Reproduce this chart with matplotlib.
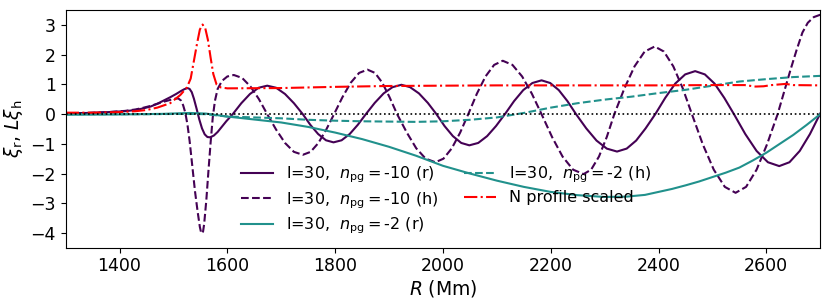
import numpy as np
import matplotlib
matplotlib.use('Agg')
import matplotlib.pyplot as plt

# l=30, n_pg=-10, radial component
R_r10 = [1300, 1340, 1380, 1410, 1430, 1445, 1458, 1470, 1482, 1494, 1505, 1514,
         1520, 1526, 1530, 1534, 1538, 1543, 1548, 1553, 1558, 1563, 1568, 1575,
         1582, 1590, 1598, 1604, 1610, 1626, 1642, 1658, 1674, 1690.5, 1707, 1723.5,
         1740, 1754, 1768.5, 1783, 1797, 1812, 1827, 1842, 1857, 1873.5, 1890, 1906.5,
         1923, 1939, 1955.5, 1972, 1988, 2003, 2018.5, 2034, 2049, 2065.5, 2082, 2098.5,
         2115, 2132, 2149, 2166, 2183, 2199, 2215, 2231, 2247, 2266, 2285, 2304,
         2323, 2341, 2358.5, 2376, 2394, 2412.5, 2431, 2449.5, 2468, 2486, 2504, 2522,
         2540, 2561, 2582, 2603, 2624, 2643, 2662, 2681, 2700]
xi_r10 = [0.03, 0.04, 0.07, 0.1, 0.14, 0.2, 0.26, 0.35, 0.46, 0.57, 0.68, 0.78,
          0.84, 0.88, 0.85, 0.74, 0.52, 0.18, -0.18, -0.48, -0.68, -0.77, -0.78, -0.72,
          -0.6, -0.42, -0.24, -0.12, 0.0, 0.37, 0.68, 0.89, 0.96, 0.89, 0.68, 0.37,
          0.0, -0.36, -0.67, -0.88, -0.95, -0.88, -0.67, -0.36, 0.0, 0.38, 0.7, 0.91,
          0.99, 0.91, 0.7, 0.38, 0.0, -0.4, -0.74, -0.97, -1.05, -0.97, -0.74, -0.4,
          0.0, 0.44, 0.81, 1.05, 1.14, 1.05, 0.81, 0.44, 0.0, -0.48, -0.89, -1.16,
          -1.26, -1.16, -0.89, -0.48, 0.0, 0.55, 1.03, 1.34, 1.45, 1.34, 1.03, 0.55,
          0.0, -0.67, -1.24, -1.62, -1.75, -1.62, -1.24, -0.67, 0.02]

# l=30, n_pg=-10, horizontal component
R_h10 = [1300, 1340, 1380, 1410, 1430, 1445, 1458, 1470, 1482, 1494, 1503, 1509,
         1514, 1518, 1522, 1526, 1530, 1535, 1540, 1545, 1549, 1551, 1553, 1555,
         1557, 1561, 1565, 1569, 1573, 1577, 1582, 1590, 1600, 1612, 1627.5, 1643,
         1658.5, 1674, 1690.5, 1707, 1723.5, 1740, 1754.5, 1769, 1783.5, 1798, 1813.5, 1829,
         1844.5, 1860, 1874, 1887.5, 1901, 1915, 1933, 1950.5, 1968, 1986, 2001, 2016.5,
         2032, 2047, 2063, 2079, 2095, 2111, 2129, 2147, 2165, 2183, 2202.5, 2222,
         2241.5, 2261, 2275, 2289.5, 2304, 2318, 2336.75, 2355.5, 2374.25, 2393, 2410, 2427.5,
         2445, 2462, 2482, 2502.5, 2523, 2543, 2562.5, 2582, 2601.5, 2621, 2633, 2645,
         2656, 2667, 2677, 2688, 2700]
xi_h10 = [0.03, 0.04, 0.07, 0.11, 0.16, 0.22, 0.28, 0.35, 0.42, 0.48, 0.52, 0.53,
          0.46, 0.3, 0.05, -0.35, -0.9, -1.75, -2.6, -3.3, -3.8, -3.96, -4.02, -3.95,
          -3.7, -2.9, -1.9, -0.95, -0.1, 0.45, 0.85, 1.12, 1.27, 1.32, 1.22, 0.93,
          0.51, 0.0, -0.52, -0.97, -1.27, -1.37, -1.27, -0.97, -0.52, 0.0, 0.57, 1.06,
          1.39, 1.5, 1.39, 1.06, 0.57, 0.0, -0.62, -1.15, -1.5, -1.62, -1.5, -1.15,
          -0.62, 0.0, 0.69, 1.27, 1.66, 1.8, 1.66, 1.27, 0.69, 0.0, -0.77, -1.43,
          -1.87, -2.02, -1.87, -1.43, -0.77, 0.0, 0.87, 1.61, 2.11, 2.28, 2.11, 1.61,
          0.87, 0.0, -1.01, -1.87, -2.45, -2.65, -2.45, -1.87, -1.01, 0.0, 0.75, 1.5,
          2.15, 2.75, 3.08, 3.27, 3.35]

# l=30, n_pg=-2, radial component
R_r2 = [1300, 1400, 1480, 1530, 1560, 1580, 1600, 1625, 1650, 1700, 1750, 1800,
        1850, 1900, 1950, 2000, 2050, 2100, 2150, 2200, 2250, 2300, 2340, 2375,
        2400, 2425, 2450, 2475, 2500, 2525, 2550, 2575, 2600, 2625, 2650, 2675, 2700]
xi_r2 = [-0.02, -0.01, 0.01, 0.04, 0.02, -0.03, -0.08, -0.13, -0.18, -0.28, -0.43, -0.62,
         -0.84, -1.1, -1.4, -1.74, -2.0, -2.24, -2.45, -2.62, -2.73, -2.79, -2.78, -2.72,
         -2.62, -2.52, -2.4, -2.27, -2.12, -1.97, -1.8, -1.56, -1.3, -1.0, -0.7, -0.36, 0.0]

# l=30, n_pg=-2, horizontal component
R_h2 = [1300, 1450, 1530, 1560, 1580, 1600, 1650, 1700, 1750, 1800, 1850, 1900,
        1950, 2000, 2050, 2100, 2150, 2200, 2250, 2300, 2350, 2400, 2450, 2500,
        2550, 2600, 2650, 2700]
xi_h2 = [0.0, 0.0, 0.01, 0.0, -0.04, -0.08, -0.11, -0.14, -0.19, -0.22, -0.24, -0.25,
         -0.26, -0.24, -0.19, -0.11, 0.04, 0.22, 0.37, 0.49, 0.59, 0.71, 0.82, 0.96,
         1.1, 1.18, 1.25, 1.29]

# buoyancy frequency, scaled
R_N = [1300, 1350, 1400, 1430, 1450, 1470, 1494, 1513, 1525, 1532, 1538, 1544,
       1549, 1554, 1559, 1564, 1569, 1574, 1580, 1588, 1600, 1700, 1800, 1900,
       2000, 2100, 2200, 2300, 2400, 2500, 2560, 2580, 2595, 2610, 2636, 2650, 2700]
N_scaled = [0.05, 0.05, 0.07, 0.1, 0.14, 0.22, 0.37, 0.65, 0.9, 1.2, 1.8, 2.4,
            2.85, 3.02, 2.9, 2.5, 1.9, 1.35, 1.0, 0.9, 0.87, 0.88, 0.92, 0.95,
            0.96, 0.97, 0.97, 0.97, 0.97, 0.98, 0.98, 0.93, 0.94, 0.98, 1.02, 0.98, 0.97]

c10 = '#440154'
c2 = '#21918c'

plt.rcParams['font.size'] = 12.5
fig = plt.figure(figsize=(8.31, 3.03), dpi=100)
ax = fig.add_axes([0.079, 0.1825, 0.908, 0.7835])

ax.plot(R_r10, xi_r10, '-', color=c10, lw=1.5, label=r'l=30,  $n_{\rm pg} = $-10 (r)')
ax.plot(R_h10, xi_h10, '--', color=c10, lw=1.5, label=r'l=30,  $n_{\rm pg} = $-10 (h)')
ax.plot(R_r2, xi_r2, '-', color=c2, lw=1.5, label=r'l=30,  $n_{\rm pg} = $-2 (r)')
ax.plot(R_h2, xi_h2, '--', color=c2, lw=1.5, label=r'l=30,  $n_{\rm pg} = $-2 (h)')
ax.plot(R_N, N_scaled, '-.', color='r', lw=1.5, label='N profile scaled')
ax.axhline(0, color='k', ls=':', lw=1.2)

ax.set_xlim(1300, 2700)
ax.set_ylim(-4.5, 3.5)
ax.set_xticks([1400, 1600, 1800, 2000, 2200, 2400, 2600])
ax.set_yticks([-4, -3, -2, -1, 0, 1, 2, 3])
ax.set_xlabel(r'$R$ (Mm)', fontsize=13.5, labelpad=2)
ax.set_ylabel(r'$\xi_{\rm r}$, $L\xi_{\rm h}$', fontsize=13.5)

ax.legend(ncol=2, frameon=False, loc='upper left', bbox_to_anchor=(0.214, 0.41),
          fontsize=11.5, labelspacing=0.3, columnspacing=1.6)

plt.savefig('out.png')
plt.close()
